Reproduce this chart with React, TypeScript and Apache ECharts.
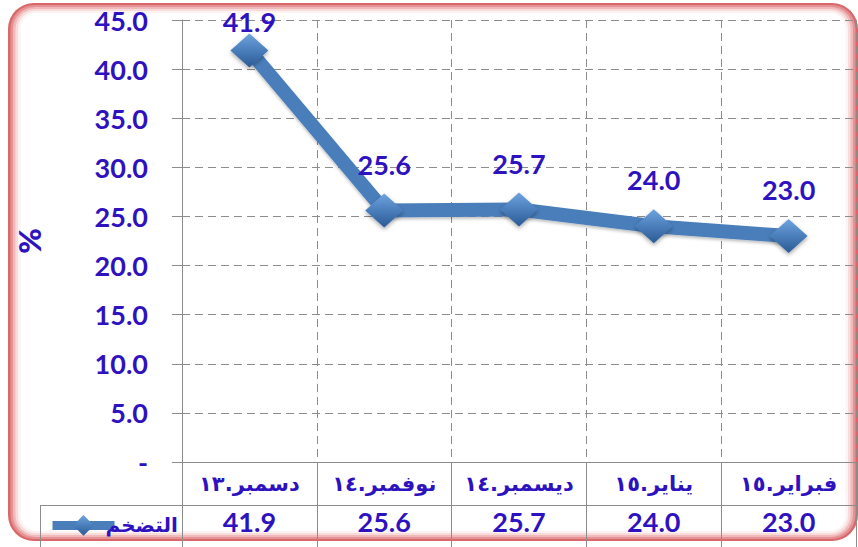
import React, { useEffect, useRef } from "react";
import * as echarts from "echarts";

const categories = ["دسمبر.١٣", "نوفمبر.١٤", "ديسمبر.١٤", "يناير.١٥", "فبراير.١٥"];
const inflation = [41.9, 25.6, 25.7, 24.0, 23.0];
const seriesName = "التضخم";
const yMin = 0;
const yMax = 45;
const yStep = 5;

const TXT = "#2e12bf";
const GRID = "#8c8c8c";
const LINE = "#4a7ebb";
const NUM_FONT = "Lato";
const AR_FONT = "DejaVu Sans";

export default function App() {
  const ref = useRef<HTMLDivElement>(null);
  useEffect(() => {
    if (!ref.current) return;
    const chart = echarts.init(ref.current, null, { renderer: "svg" });
    const diamondFill = new echarts.graphic.LinearGradient(0, 0, 0, 1, [
      { offset: 0, color: "#6fa3e0" },
      { offset: 0.5, color: "#4a7ebb" },
      { offset: 1, color: "#2c5a94" },
    ]);
    const frameColors = ["#d9686b", "#e69294", "#f0b9ba", "#f8dcdc", "#fdf3f3", "#ffffff"];
    const frame = frameColors.map((c, i) => ({
      type: "rect",
      z: -10 + i,
      silent: true,
      shape: { x: 8 + i * 2.5, y: 3 + i * 2, width: 850 - i * 5, height: 538 - i * 4, r: 26 - i * 2 },
      style: { fill: c },
    }));
    chart.setOption({
      animation: false,
      backgroundColor: "#ffffff",
      grid: { left: 182, right: 2, top: 20, bottom: 85, containLabel: false },
      legend: {
        show: true,
        left: 43,
        top: 510,
        itemWidth: 62,
        itemHeight: 26,
        itemGap: 0,
        data: [seriesName],
        lineStyle: { width: 9, color: LINE },
        itemStyle: { color: diamondFill },
        textStyle: { color: TXT, fontFamily: AR_FONT, fontWeight: "bold", fontSize: 20, padding: [0, 0, 0, -14] },
      },
      xAxis: [
        {
          type: "category",
          data: categories,
          boundaryGap: true,
          axisLine: { show: true, lineStyle: { color: GRID, width: 1 } },
          axisTick: { show: true, interval: 0, inside: false, length: 90, lineStyle: { color: GRID, width: 1 } },
          splitLine: { show: true, interval: 0, lineStyle: { color: GRID, type: [8, 5], width: 1 } },
          axisLabel: { interval: 0, hideOverlap: false, color: TXT, fontFamily: AR_FONT, fontWeight: "bold", fontSize: 21, margin: 11 },
        },
        {
          type: "category",
          data: inflation.map((v) => v.toFixed(1)),
          position: "bottom",
          offset: 43,
          boundaryGap: true,
          axisLine: { show: false },
          axisTick: { show: false },
          splitLine: { show: false },
          axisLabel: { interval: 0, color: TXT, fontFamily: NUM_FONT, fontWeight: "bold", fontSize: 27, margin: 3 },
        },
      ],
      yAxis: {
        type: "value",
        min: yMin,
        max: yMax,
        interval: yStep,
        name: "%",
        nameLocation: "middle",
        nameGap: 138,
        nameRotate: 90,
        nameTextStyle: { color: TXT, fontFamily: NUM_FONT, fontWeight: 900, fontSize: 31 },
        axisLine: { show: true, lineStyle: { color: GRID, width: 1 } },
        axisTick: { show: true, inside: false, length: 10, lineStyle: { color: GRID } },
        splitLine: { show: true, lineStyle: { color: GRID, type: [8, 5], width: 1 } },
        axisLabel: {
          color: TXT,
          fontFamily: NUM_FONT,
          fontWeight: "bold",
          fontSize: 27,
          margin: 34,
          formatter: (v: number) => (v === 0 ? "-" : v.toFixed(1)),
        },
      },
      series: [
        {
          name: seriesName,
          type: "line",
          xAxisIndex: 0,
          data: inflation.map((v, i) =>
            i === 0 ? { value: v, label: { distance: -2 } } : v
          ),
          symbol: "diamond",
          symbolSize: [38, 34],
          lineStyle: { color: LINE, width: 14, shadowColor: "rgba(0,0,0,0.25)", shadowBlur: 3, shadowOffsetY: 2 },
          itemStyle: { color: diamondFill, shadowColor: "rgba(0,0,0,0.35)", shadowBlur: 4, shadowOffsetY: 2 },
          label: {
            show: true,
            position: "top",
            distance: 16,
            color: TXT,
            fontFamily: NUM_FONT,
            fontWeight: "bold",
            fontSize: 27,
            formatter: (p: any) => Number(p.value).toFixed(1),
          },
          z: 5,
        },
      ],
      graphic: [
        ...frame,
        {
          type: "line",
          silent: true,
          z: 1,
          shape: { x1: 40, y1: 505.5, x2: 858, y2: 505.5 },
          style: { stroke: GRID, lineWidth: 1 },
        },
        {
          type: "line",
          silent: true,
          z: 1,
          shape: { x1: 40.5, y1: 505, x2: 40.5, y2: 547 },
          style: { stroke: GRID, lineWidth: 1 },
        },
      ],
    });
    return () => chart.dispose();
  }, []);
  return (
    <div
      ref={ref}
      style={{ position: "absolute", left: 0, top: 0, width: 858, height: 547 }}
    />
  );
}
